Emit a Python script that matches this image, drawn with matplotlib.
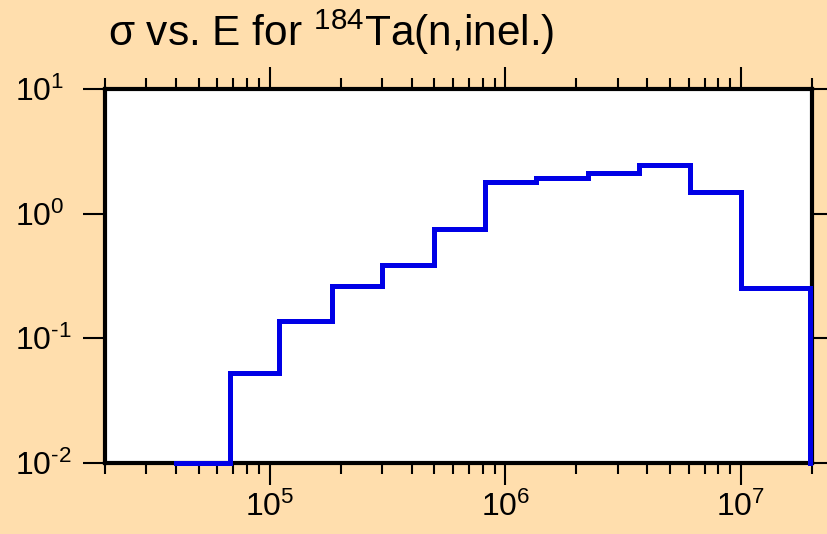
import matplotlib
matplotlib.use("Agg")
import matplotlib.pyplot as plt
import numpy as np

plt.rcParams['font.family'] = ['Liberation Sans', 'DejaVu Sans']
plt.rcParams['mathtext.fontset'] = 'custom'
plt.rcParams['mathtext.rm'] = 'Liberation Sans'
plt.rcParams['mathtext.it'] = 'Liberation Sans:italic'
plt.rcParams['mathtext.bf'] = 'Liberation Sans:bold'

# group boundaries (eV) and cross section (b)
edges = [4.0e4, 6.8e4, 1.1e5, 1.84e5, 3.0e5, 5.0e5, 8.2e5,
         1.35e6, 2.24e6, 3.68e6, 6.07e6, 1.0e7, 1.96e7]
sigma = [0.01, 0.053, 0.139, 0.265, 0.391, 0.75, 1.81,
         1.92, 2.10, 2.46, 1.50, 0.254]
floor = 0.01

xticks = [1e5, 1e6, 1e7]
xlabels = ['5', '6', '7']
yticks = [1e-2, 1e-1, 1e0, 1e1]
ylabels = ['\\text{-}2', '\\text{-}1', '0', '1']

bg = '#FFDEAD'
fig = plt.figure(figsize=(8.27, 5.34), dpi=100, facecolor=bg)
ax = fig.add_axes([105/827, 71/534, 707/827, 374/534])
ax.set_facecolor('white')

xs = np.array(edges)
ys = np.array(sigma + [floor])
ax.step(xs, ys, where='post', color='#0000E6', lw=3.6,
        clip_on=False, zorder=5, solid_joinstyle='miter')

ax.set_xscale('log')
ax.set_yscale('log')
ax.set_xlim(2e4, 2e7)
ax.set_ylim(1e-2, 1e1)
ax.set_xticks(xticks, ['$\\mathregular{10^{%s}}$' % e for e in xlabels])
ax.set_yticks(yticks, ['$\\mathregular{10^{%s}}$' % e for e in ylabels])
ax.yaxis.set_minor_locator(matplotlib.ticker.NullLocator())

for s in ax.spines.values():
    s.set_linewidth(3)
    s.set_zorder(4)

ax.tick_params(which='both', direction='out', width=1.5, colors='black',
               top=True, right=True, labelsize=23)
ax.tick_params(axis='x', which='major', length=15.5, pad=5)
ax.tick_params(axis='x', which='minor', length=8)
ax.tick_params(axis='y', which='major', length=15.8, pad=49)
for lab in ax.get_yticklabels():
    lab.set_horizontalalignment('left')
for t in ax.yaxis.get_major_ticks():
    t.tick2line.set_markersize(10.8)

fig.text(108/827, 1 - 46/534, 'σ vs. E for $^{184}$Ta(n,inel.)',
         fontsize=30.5, ha='left', va='baseline')

fig.savefig('out.png', dpi=100, facecolor=bg)
